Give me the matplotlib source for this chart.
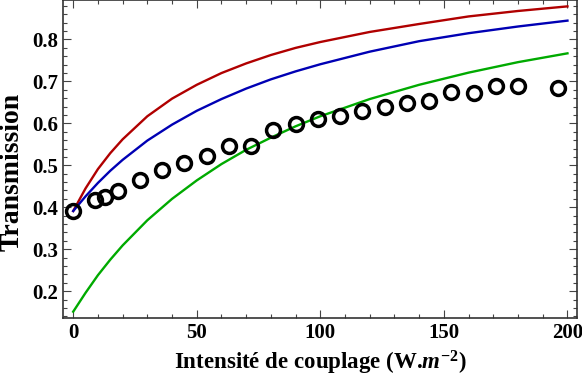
import numpy as np
import matplotlib
matplotlib.use("Agg")
import matplotlib.pyplot as plt
from matplotlib.ticker import MultipleLocator

plt.rcParams['font.family'] = 'Liberation Serif'
plt.rcParams['font.weight'] = 'bold'
plt.rcParams['mathtext.fontset'] = 'custom'
plt.rcParams['mathtext.rm'] = 'Liberation Serif:bold'
plt.rcParams['mathtext.it'] = 'Liberation Serif:italic:bold'
plt.rcParams['mathtext.bf'] = 'Liberation Serif:bold'

# measured transmission vs coupling intensity
x_meas = [0, 9, 12.7, 18, 27, 36, 45, 54, 63, 72, 81, 90, 99, 108, 117,
          126, 135, 144, 153, 162, 171, 180, 196]
t_meas = [0.391, 0.417, 0.424, 0.438, 0.464, 0.490, 0.506, 0.522, 0.546,
          0.545, 0.585, 0.599, 0.610, 0.617, 0.629, 0.640, 0.649, 0.653,
          0.675, 0.673, 0.689, 0.688, 0.685]

# model curves
x_curve = [0, 5, 10, 15, 20, 30, 40, 50, 60, 70, 80, 90, 100, 120, 140,
           160, 180, 200]
t_red = [0.391, 0.445, 0.491, 0.529, 0.562, 0.617, 0.659, 0.692, 0.720,
         0.743, 0.763, 0.780, 0.794, 0.818, 0.837, 0.855, 0.868, 0.879]
t_blue = [0.391, 0.426, 0.458, 0.487, 0.513, 0.559, 0.597, 0.630, 0.658,
          0.683, 0.705, 0.724, 0.741, 0.771, 0.796, 0.815, 0.831, 0.845]
t_green = [0.151, 0.196, 0.238, 0.275, 0.309, 0.369, 0.420, 0.464, 0.503,
           0.537, 0.566, 0.593, 0.617, 0.658, 0.692, 0.721, 0.746, 0.767]

fig = plt.figure(figsize=(5.82, 3.81), dpi=100)
ax = fig.add_axes([0.1088, 0.166, 0.8832, 0.8327])

ax.plot(x_curve, t_red, color='#b00000', lw=1.7)
ax.plot(x_curve, t_blue, color='#0000b4', lw=1.7)
ax.plot(x_curve, t_green, color='#00aa00', lw=1.7)
ax.plot(x_meas, t_meas, 'o', mfc='none', mec='black', ms=10, mew=2.5)

ax.set_xlim(-4, 204)
ax.set_ylim(0.1365, 0.893)

ax.xaxis.set_major_locator(MultipleLocator(50))
ax.xaxis.set_minor_locator(MultipleLocator(10))
ax.yaxis.set_major_locator(MultipleLocator(0.1))
ax.yaxis.set_minor_locator(MultipleLocator(0.02))
ax.tick_params(which='both', direction='in', top=True, right=True,
               labelsize=15, width=0.8, color='#444444')
ax.tick_params(which='major', length=6)
ax.tick_params(which='minor', length=3)
ax.set_yticks([0.2, 0.3, 0.4, 0.5, 0.6, 0.7, 0.8])
ax.set_yticklabels(['0.2', '0.3', '0.4', '0.5', '0.6', '0.7', '0.8'])
for s in ax.spines.values():
    s.set_linewidth(1.2)
    s.set_color('#333333')

ax.set_xlabel(r'Intensité de couplage (W.$\mathit{m}^{-2}$)', fontsize=16.5,
              fontweight='bold')
ax.xaxis.set_label_coords(0.5, -0.097)
ax.set_ylabel('Transmission', fontsize=20, fontweight='bold')
ax.yaxis.set_label_coords(-0.075, 0.459)

fig.savefig('out.png', dpi=100)
